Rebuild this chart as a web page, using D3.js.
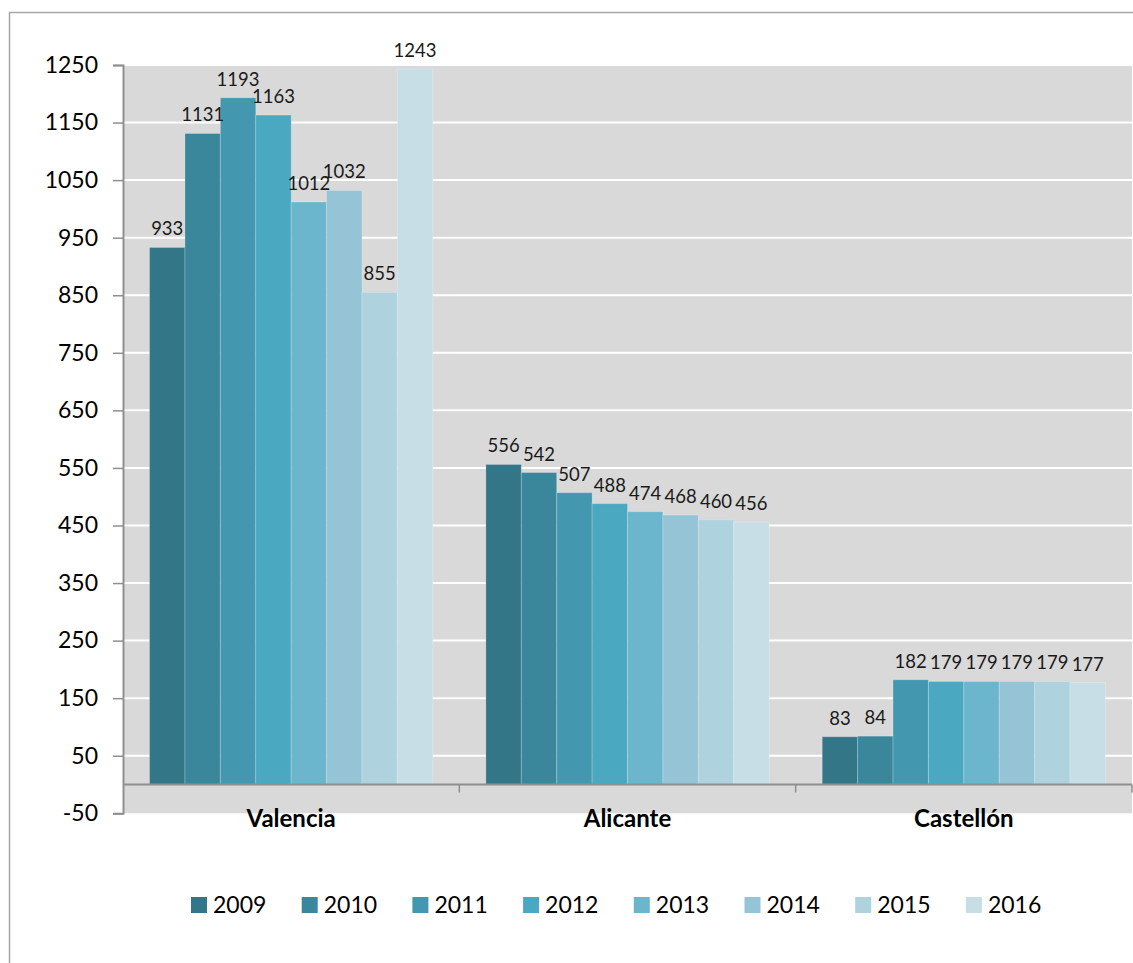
<!DOCTYPE html>
<html>
<head>
<meta charset="utf-8">
<script src="https://cdn.jsdelivr.net/npm/d3@7"></script>
<style>
  html, body { margin: 0; padding: 0; background: #ffffff; }
  svg { display: block; font-family: Lato, "Open Sans", sans-serif; }
</style>
</head>
<body>
<svg id="chart" width="1133" height="963"></svg>
<script>
// Provinces and yearly values
const categories = ["Valencia", "Alicante", "Castellón"];
const years = ["2009", "2010", "2011", "2012", "2013", "2014", "2015", "2016"];
const values2009 = [933, 556, 83];
const values2010 = [1131, 542, 84];
const values2011 = [1193, 507, 182];
const values2012 = [1163, 488, 179];
const values2013 = [1012, 474, 179];
const values2014 = [1032, 468, 179];
const values2015 = [855, 460, 179];
const values2016 = [1243, 456, 177];
const yTicks = [-50, 50, 150, 250, 350, 450, 550, 650, 750, 850, 950, 1050, 1150, 1250];

const seriesValues = [values2009, values2010, values2011, values2012,
                      values2013, values2014, values2015, values2016];
const colors = ["#327688", "#3a879c", "#4398b0", "#4aa8c1",
                "#6bb6cc", "#94c4d6", "#aed3df", "#c7dee6"];

const svg = d3.select("#chart");

const plot = { left: 123, right: 1132, top: 65 };

const y = d3.scaleLinear().domain([-50, 1250]).range([813.3, plot.top]);
const x0 = d3.scaleBand().domain(categories).range([plot.left, plot.right]);
const x1 = d3.scaleBand().domain(years).range([0, x0.bandwidth()])
  .paddingInner(0).paddingOuter(0.75);
const color = d3.scaleOrdinal().domain(years).range(colors);

// Outer chart frame
svg.append("rect")
  .attr("x", 9.5).attr("y", 12.5)
  .attr("width", 1140).attr("height", 1000)
  .attr("fill", "none").attr("stroke", "#a6a6a6").attr("stroke-width", 1.5);

// Plot background (back wall + floor)
svg.append("rect")
  .attr("x", plot.left).attr("y", plot.top)
  .attr("width", plot.right - plot.left).attr("height", y(-50) - plot.top)
  .attr("fill", "#d9d9d9");

// Horizontal gridlines
svg.append("g")
  .selectAll("line")
  .data(yTicks.filter(t => t > 0))
  .join("line")
  .attr("x1", plot.left).attr("x2", plot.right)
  .attr("y1", d => y(d)).attr("y2", d => y(d))
  .attr("stroke", "#ffffff").attr("stroke-width", 2);

// Bars
const rows = categories.map((c, i) => ({
  category: c,
  items: years.map((yr, j) => ({ year: yr, value: seriesValues[j][i] }))
}));

const groups = svg.append("g")
  .selectAll("g")
  .data(rows)
  .join("g")
  .attr("transform", d => `translate(${x0(d.category)},0)`);

groups.selectAll("rect")
  .data(d => d.items)
  .join("rect")
  .attr("x", d => x1(d.year))
  .attr("y", d => y(d.value))
  .attr("width", x1.bandwidth())
  .attr("height", d => y(0) - y(d.value))
  .attr("fill", d => color(d.year))
  .attr("stroke", "rgba(255,255,255,0.22)")
  .attr("stroke-width", 1);

// Value labels
groups.selectAll("text")
  .data(d => d.items)
  .join("text")
  .attr("x", d => x1(d.year) + x1.bandwidth() / 2)
  .attr("y", d => y(d.value) - 12)
  .attr("text-anchor", "middle")
  .attr("font-size", 18.5)
  .attr("fill", "#1a1a1a")
  .text(d => d.value);

// Floor edge
svg.append("line")
  .attr("x1", plot.left).attr("x2", plot.right)
  .attr("y1", y(0)).attr("y2", y(0))
  .attr("stroke", "#8f8f8f").attr("stroke-width", 2);

// Category separators on the floor
svg.append("g")
  .selectAll("line")
  .data(categories)
  .join("line")
  .attr("x1", d => x0(d) + x0.bandwidth())
  .attr("x2", d => x0(d) + x0.bandwidth())
  .attr("y1", y(0)).attr("y2", y(0) + 8)
  .attr("stroke", "#8f8f8f").attr("stroke-width", 1.5);

// Category labels
svg.append("g")
  .selectAll("text")
  .data(categories)
  .join("text")
  .attr("x", d => x0(d) + x0.bandwidth() / 2)
  .attr("y", 827)
  .attr("text-anchor", "middle")
  .attr("font-size", 24)
  .attr("font-weight", "bold")
  .attr("fill", "#000000")
  .text(d => d);

// Value axis
const yAxis = d3.axisLeft(y).tickValues(yTicks).tickSize(10).tickPadding(15)
  .tickFormat(d => String(d));
const ya = svg.append("g")
  .attr("transform", `translate(${plot.left},0)`)
  .call(yAxis);
ya.select(".domain").attr("stroke", "#8f8f8f").attr("stroke-width", 2);
ya.selectAll(".tick line").attr("stroke", "#8f8f8f").attr("stroke-width", 1.5);
ya.selectAll(".tick text")
  .attr("font-family", "Lato, 'Open Sans', sans-serif")
  .attr("font-size", 23).attr("fill", "#000000");

// Legend
const legend = svg.append("g")
  .selectAll("g")
  .data(years)
  .join("g")
  .attr("transform", (d, i) => `translate(${191 + i * 110.7},897)`);
legend.append("rect")
  .attr("width", 16).attr("height", 16)
  .attr("fill", d => color(d));
legend.append("text")
  .attr("x", 22).attr("y", 16)
  .attr("font-size", 23).attr("fill", "#000000")
  .text(d => d);
</script>
</body>
</html>
